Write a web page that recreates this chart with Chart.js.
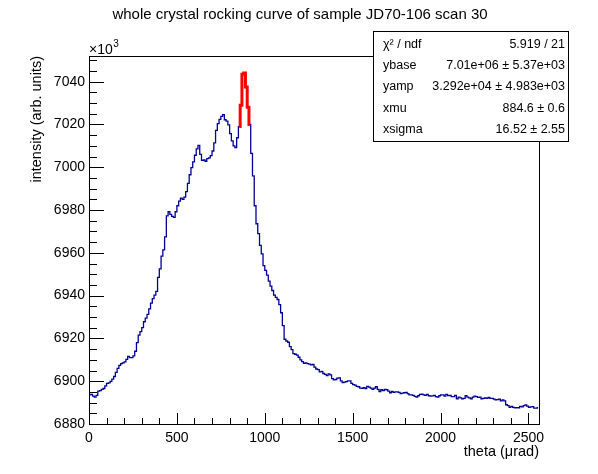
<!DOCTYPE html>
<html>
<head>
<meta charset="utf-8">
<script src="https://cdn.jsdelivr.net/npm/chart.js@4.4.1/dist/chart.umd.min.js"></script>
<style>
  body { margin: 0; background: #fff; }
  #wrap { width: 598px; height: 474px; }
</style>
</head>
<body>
<div id="wrap"><canvas id="myChart" width="598" height="474"></canvas></div>
<script>
// histogram: 10 urad bins starting at 0, intensity in units of 10^3
const binWidth = 10;
const intensity = [
  6893.6, 6893.8, 6893.0, 6892.6, 6893.4, 6895.4, 6895.6, 6896.2, 6896.6, 6897.8, 6899.0, 6899.2, 6899.9, 6901.0, 6902.2, 6904.1,
  6906.0, 6907.4, 6908.2, 6908.6, 6909.0, 6910.2, 6911.6, 6911.0, 6911.0, 6911.8, 6914.0, 6918.0, 6921.5, 6923.2, 6925.0, 6927.8,
  6929.5, 6931.2, 6933.8, 6936.5, 6938.6, 6940.2, 6942.0, 6948.5, 6952.5, 6958.5, 6961.4, 6967.5, 6977.3, 6979.2, 6978.0, 6977.0,
  6976.6, 6979.2, 6982.0, 6984.2, 6985.6, 6985.0, 6986.0, 6988.6, 6992.5, 6996.5, 6999.8, 7002.5, 7005.6, 7008.6, 7010.2, 7006.0,
  7003.2, 7003.4, 7002.8, 7004.0, 7004.4, 7005.4, 7007.6, 7011.4, 7017.2, 7020.4, 7022.4, 7023.8, 7024.6, 7022.2, 7021.6, 7019.8,
  7015.7, 7012.3, 7010.0, 7009.2, 7013.8, 7019.0, 7029.0, 7043.5, 7044.0, 7037.5, 7028.0, 7020.0, 7006.5, 6996.0, 6982.0, 6973.6,
  6969.0, 6963.5, 6959.5, 6954.0, 6951.8, 6949.6, 6946.8, 6944.4, 6942.4, 6940.2, 6939.2, 6938.2, 6935.8, 6932.0, 6926.0, 6919.6,
  6918.8, 6918.2, 6916.2, 6914.8, 6912.9, 6912.6, 6912.2, 6911.2, 6910.0, 6909.2, 6908.4, 6908.6, 6908.2, 6908.0, 6907.6, 6907.8,
  6906.6, 6905.7, 6905.4, 6904.4, 6904.6, 6903.6, 6903.2, 6902.6, 6903.4, 6903.0, 6901.2, 6900.6, 6900.8, 6901.4, 6901.6, 6900.2,
  6899.4, 6899.6, 6899.8, 6900.2, 6900.2, 6899.0, 6898.4, 6898.2, 6897.6, 6897.4, 6896.8, 6896.7, 6897.0, 6896.6, 6897.6, 6897.2,
  6896.8, 6896.2, 6896.8, 6897.4, 6896.2, 6895.2, 6896.0, 6895.6, 6896.2, 6896.0, 6895.4, 6894.6, 6895.2, 6894.8, 6895.0, 6895.0,
  6894.8, 6894.2, 6894.4, 6894.6, 6894.8, 6894.2, 6893.6, 6893.6, 6893.4, 6892.9, 6892.6, 6893.2, 6893.8, 6894.0, 6893.6, 6893.4,
  6893.8, 6893.2, 6893.0, 6893.1, 6893.4, 6892.8, 6892.6, 6893.2, 6893.6, 6893.6, 6893.0, 6893.8, 6893.3, 6893.4, 6892.8, 6892.8,
  6893.4, 6891.8, 6892.6, 6892.2, 6891.7, 6892.0, 6893.2, 6892.6, 6892.2, 6891.8, 6892.6, 6893.0, 6892.8, 6892.4, 6892.6, 6891.8,
  6892.0, 6892.2, 6892.0, 6892.4, 6892.0, 6892.0, 6891.6, 6891.3, 6891.4, 6891.6, 6890.8, 6891.3, 6890.8, 6889.0, 6888.6, 6887.8,
  6888.2, 6887.8, 6887.6, 6887.7, 6887.6, 6888.2, 6888.0, 6888.6, 6888.9, 6888.4, 6887.8, 6888.0, 6888.1, 6887.4, 6887.4, 6887.6
];
const theta = intensity.map((v, i) => i * binWidth + binWidth / 2);

// tick labels
const xTicks = [0, 500, 1000, 1500, 2000, 2500];
const yTicks = [6880, 6900, 6920, 6940, 6960, 6980, 7000, 7020, 7040];

// fit range drawn in red
const fitMin = 850;
const fitMax = 920;

const statLabels = ["\u03C7\u00B2 / ndf", "ybase", "yamp", "xmu", "xsigma"];
const statValues = ["5.919 / 21", "7.01e+06 \u00B1 5.37e+03", "3.292e+04 \u00B1 4.983e+03", "884.6 \u00B1 0.6", "16.52 \u00B1 2.55"];

const titleText = "whole crystal rocking curve of sample JD70-106 scan 30";
const FONT = "'Liberation Sans', Arial, Helvetica, sans-serif";

Chart.defaults.color = "#000";
Chart.defaults.font.family = FONT;

const histData = theta.map((x, i) => ({ x: x, y: intensity[i] }));
const fitData = histData.filter(p => p.x > fitMin && p.x < fitMax);

const rootDecor = {
  id: "rootDecor",
  afterDraw(chart) {
    const c = chart.ctx;
    const a = chart.chartArea;
    const xs = chart.scales.x, ys = chart.scales.y;
    c.save();
    c.strokeStyle = "#000";
    c.lineWidth = 1;
    // frame
    c.strokeRect(Math.round(a.left) + 0.5, Math.round(a.top) + 0.5, Math.round(a.right - a.left), Math.round(a.bottom - a.top));
    // y ticks (inside)
    c.beginPath();
    for (let v = ys.min; v <= ys.max + 0.01; v += 5) {
      const y = Math.round(ys.getPixelForValue(v)) + 0.5;
      const len = (Math.round(v) % 20 === 0) ? 15 : 8;
      c.moveTo(a.left, y);
      c.lineTo(a.left + len, y);
    }
    // x ticks (inside)
    for (let v = xs.min; v <= xs.max; v += 100) {
      const x = Math.round(xs.getPixelForValue(v)) + 0.5;
      const len = (v % 500 === 0) ? 11 : 6;
      c.moveTo(x, a.bottom);
      c.lineTo(x, a.bottom - len);
    }
    c.stroke();

    // x10^3 multiplier
    c.fillStyle = "#000";
    c.textAlign = "left";
    c.textBaseline = "alphabetic";
    c.font = "14px " + FONT;
    c.fillText("\u00D710", a.left, a.top - 2);
    const w = c.measureText("\u00D710").width;
    c.font = "10px " + FONT;
    c.fillText("3", a.left + w + 0.5, a.top - 9);

    // title
    c.font = "15px " + FONT;
    c.textAlign = "center";
    c.textBaseline = "middle";
    c.fillText(titleText, 300, 15);

    // stats box
    const bx = 373.5, by = 31.5, bw = 195, bh = 110;
    c.fillStyle = "#fff";
    c.fillRect(bx, by, bw, bh);
    c.strokeRect(bx, by, bw, bh);
    c.fillStyle = "#000";
    c.font = "12.5px " + FONT;
    for (let i = 0; i < statLabels.length; i++) {
      const y = 44.5 + i * 21.2;
      c.textAlign = "left";
      c.fillText(statLabels[i], 383, y);
      c.textAlign = "right";
      c.fillText(statValues[i], 565, y);
    }
    c.restore();
  }
};

const ctx = document.getElementById("myChart");
new Chart(ctx, {
  type: "line",
  data: {
    datasets: [
      {
        label: "fit",
        data: fitData,
        borderColor: "#ff0000",
        borderWidth: 3,
        stepped: "middle",
        pointRadius: 0,
        fill: false,
      },
      {
        label: "intensity",
        data: histData,
        borderColor: "#000096",
        borderWidth: 1.3,
        stepped: "middle",
        pointRadius: 0,
        fill: false,
      },
    ],
  },
  options: {
    responsive: false,
    animation: false,
    layout: { padding: { top: 56, right: 59, left: 0, bottom: 0 } },
    plugins: {
      legend: { display: false },
      tooltip: { enabled: false },
    },
    scales: {
      x: {
        type: "linear",
        min: 0,
        max: 2560,
        grid: { display: false, drawTicks: false },
        border: { display: false },
        afterBuildTicks(scale) { scale.ticks = xTicks.map(v => ({ value: v })); },
        ticks: {
          maxRotation: 0,
          autoSkip: false,
          padding: 6,
          font: { size: 14 },
          callback: v => String(v),
        },
        title: {
          display: true,
          text: "theta (\u03BCrad)",
          align: "end",
          font: { size: 14.5 },
          padding: { top: 0, bottom: 13 },
        },
        afterFit(scale) { scale.height = 50; },
      },
      y: {
        type: "linear",
        min: 6880,
        max: 7052,
        grid: { display: false, drawTicks: false },
        border: { display: false },
        afterBuildTicks(scale) { scale.ticks = yTicks.map(v => ({ value: v })); },
        ticks: {
          autoSkip: false,
          padding: 4,
          font: { size: 14 },
          callback: v => String(v),
        },
        title: {
          display: true,
          text: "intensity (arb. units)",
          align: "end",
          font: { size: 14.5 },
          padding: { top: 28, bottom: 0 },
        },
        afterFit(scale) { scale.width = 89; },
      },
    },
  },
  plugins: [rootDecor],
});
</script>
</body>
</html>
